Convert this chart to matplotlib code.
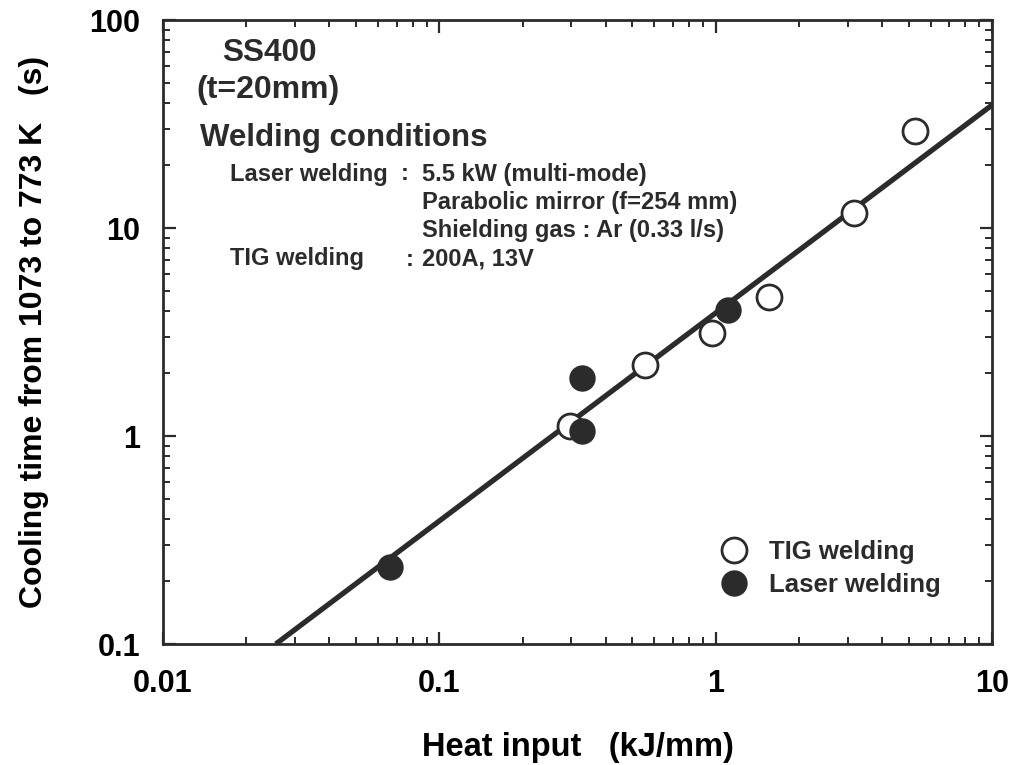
import numpy as np
import matplotlib
matplotlib.use("Agg")
import matplotlib.pyplot as plt
from matplotlib.ticker import LogLocator, FixedLocator, FixedFormatter, NullFormatter

# TIG welding (open circles)
tig_x = [0.297, 0.556, 0.97, 1.56, 3.17, 5.27]
tig_y = [1.12, 2.19, 3.13, 4.66, 11.8, 29.3]

# Laser welding (filled circles)
laser_x = [0.0663, 0.329, 0.329, 1.11]
laser_y = [0.234, 1.06, 1.90, 4.03]

# fitted line end points
fit_x = [0.0256, 10.0]
fit_y = [0.1, 39.0]

x_ticks = [0.01, 0.1, 1, 10]
x_labels = ["0.01", "0.1", "1", "10"]
y_ticks = [0.1, 1, 10, 100]
y_labels = ["0.1", "1", "10", "100"]

ink = "#2b2b2b"
plt.rcParams["font.family"] = ["Liberation Sans", "DejaVu Sans"]
plt.rcParams["font.weight"] = "bold"

fig = plt.figure(figsize=(10.11, 7.65), dpi=100)
ax = fig.add_axes([163/1011, 1 - 644/765, (992-163)/1011, (644-20)/765])

ax.plot(fit_x, fit_y, color=ink, lw=3.8, solid_capstyle="butt", zorder=2)
ax.plot(tig_x, tig_y, "o", ms=18, mfc="white", mec=ink, mew=2.0, ls="none",
        label="TIG welding", zorder=3)
ax.plot(laser_x, laser_y, "o", ms=18, mfc=ink, mec=ink, mew=1.0, ls="none",
        label="Laser welding", zorder=3)

ax.set_xscale("log")
ax.set_yscale("log")
ax.set_xlim(0.01, 10)
ax.set_ylim(0.1, 100)

ax.xaxis.set_major_locator(FixedLocator(x_ticks))
ax.xaxis.set_major_formatter(FixedFormatter(x_labels))
ax.yaxis.set_major_locator(FixedLocator(y_ticks))
ax.yaxis.set_major_formatter(FixedFormatter(y_labels))
ax.xaxis.set_minor_locator(LogLocator(base=10, subs=np.arange(2, 10)))
ax.yaxis.set_minor_locator(LogLocator(base=10, subs=np.arange(2, 10)))
ax.xaxis.set_minor_formatter(NullFormatter())
ax.yaxis.set_minor_formatter(NullFormatter())

ax.tick_params(which="both", direction="in", top=True, right=True, color=ink)
ax.tick_params(which="major", length=9, width=1.6, labelsize=22, labelcolor="black")
ax.tick_params(axis="x", which="major", pad=18)
ax.tick_params(axis="y", which="major", pad=16.5)
ax.tick_params(which="minor", length=5, width=1.4)
for lab in ax.get_xticklabels() + ax.get_yticklabels():
    lab.set_fontweight("bold")
for sp in ax.spines.values():
    sp.set_linewidth(2.0)
    sp.set_color(ink)

ax.set_xlabel("Heat input   (kJ/mm)", fontsize=23.5, fontweight="bold", labelpad=24)
ax.set_ylabel("Cooling time from 1073 to 773 K   (s)", fontsize=23, fontweight="bold", labelpad=29)

def px(x, y, s, size, **kw):
    fig.text(x/1011, 1 - y/765, s, fontsize=size, fontweight="bold", color=ink,
             va="center", ha="left", **kw)

px(222, 53, "SS400", 22.7)
px(196, 90, "(t=20mm)", 23)
px(200, 138, "Welding conditions", 22.5)
sub = 17
px(230, 174, "Laser welding", sub)
px(401, 174, ":", sub)
px(422, 174, "5.5 kW (multi-mode)", sub)
px(422, 203, "Parabolic mirror (f=254 mm)", sub)
px(422, 231, "Shielding gas : Ar (0.33 l/s)", sub)
px(230, 259, "TIG welding", sub)
px(406, 259, ":", sub)
px(422, 259, "200A, 13V", sub)

leg = ax.legend(loc="upper left", bbox_to_anchor=(0.661, 0.183), frameon=False,
                fontsize=18.5, handletextpad=0.85, labelspacing=0.35,
                borderaxespad=0, handlelength=1.0)
for t in leg.get_texts():
    t.set_fontweight("bold")
    t.set_color(ink)

fig.savefig("out.png", dpi=100)
